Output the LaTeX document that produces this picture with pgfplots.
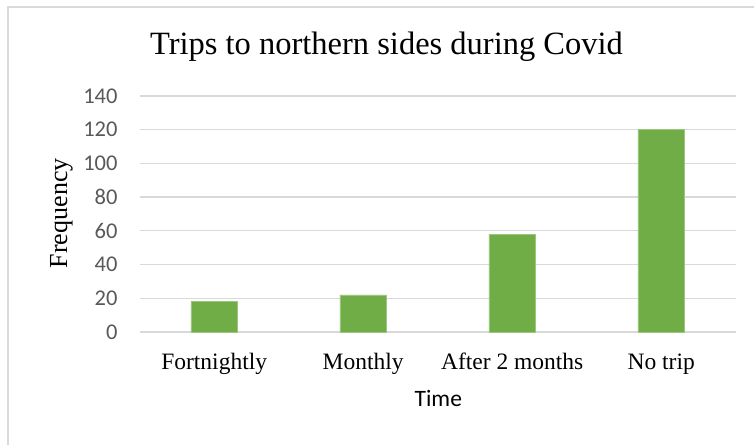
\documentclass[border=0pt]{standalone}
\usepackage{fontspec}
\setmainfont{Liberation Serif}
\newfontfamily\carlito{Carlito}
\usepackage{pgfplots}
\pgfplotsset{compat=1.18}
\definecolor{barg}{HTML}{70AD47}
\definecolor{gridg}{HTML}{D9D9D9}
\definecolor{tickg}{HTML}{595959}
\begin{document}
\begin{tikzpicture}[x=1bp,y=1bp]
\useasboundingbox (0,0) rectangle (754,445);
\draw[gridg, line width=1.2bp] (8,-5) -- (8,438) -- (760,438);
\begin{axis}[
  at={(139.7bp,113bp)}, anchor=south west,
  scale only axis, width=596bp, height=236bp,
  xmin=-0.5, xmax=3.5, ymin=0, ymax=140,
  ytick={0,20,...,140},
  xtick=data,
  xticklabels={Fortnightly,Monthly,After 2 months,No trip},
  major tick length=0pt,
  axis line style={draw=none},
  ymajorgrids, grid style={gridg, line width=1.3bp},
  clip=false,
  /pgf/number format/assume math mode=true,
  yticklabel style={font=\carlito\fontsize{22.5bp}{27bp}\selectfont, text=tickg, anchor=east, inner sep=0pt, xshift=-22bp},
  xticklabel style={font=\fontsize{23.5bp}{28bp}\selectfont, anchor=base, inner sep=0pt, yshift=-37.3bp},
  ybar, bar width=46.5bp, bar shift=0pt,
]
\addplot[fill=barg, draw=barg!70!white, line width=0.6bp] coordinates {(0,18) (1,22) (2,58) (3,120)};
\end{axis}
\node[anchor=base, inner sep=0pt, font=\fontsize{32.5bp}{38bp}\selectfont] at (386.5,390) {Trips to northern sides during Covid};
\node[anchor=base, inner sep=0pt, font=\carlito\fontsize{23.5bp}{28bp}\selectfont] at (438.3,38.3) {Time};
\node[anchor=base, inner sep=0pt, rotate=90, font=\fontsize{26bp}{30bp}\selectfont] at (67,231.7) {Frequency};
\end{tikzpicture}
\end{document}
